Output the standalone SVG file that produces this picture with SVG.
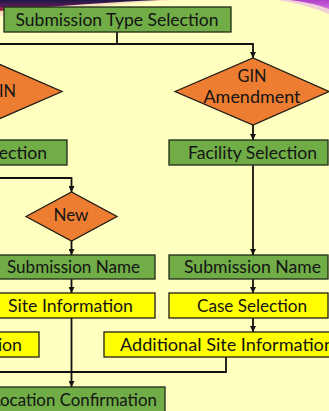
<svg xmlns="http://www.w3.org/2000/svg" width="329" height="411" viewBox="0 0 329 411">
  <defs>
    <linearGradient id="swooshL" x1="0" y1="0" x2="0" y2="1">
      <stop offset="0" stop-color="#1d1745"/>
      <stop offset="0.55" stop-color="#5a1c58"/>
      <stop offset="1" stop-color="#c42a3c"/>
    </linearGradient>
    <linearGradient id="swooshR" x1="0" y1="0" x2="0" y2="1">
      <stop offset="0" stop-color="#b040c8"/>
      <stop offset="1" stop-color="#d070e0"/>
    </linearGradient>
    <marker id="arrow" markerUnits="userSpaceOnUse" markerWidth="7" markerHeight="6" refX="6" refY="3" orient="auto">
      <path d="M0,0 L6,3 L0,6 Z" fill="#111"/>
    </marker>
  </defs>
  <style>
    .box-green { fill: #70ad47; stroke: #1f2a18; stroke-width: 1.3; }
    .box-yellow { fill: #ffff00; stroke: #1f1f10; stroke-width: 1.3; }
    .decision { fill: #ed7d31; stroke: #1f1a12; stroke-width: 1.3; }
    .label { font-family: Lato, "Open Sans", "Liberation Sans", sans-serif; font-size: 18px; fill: #141414; }
    .mid { text-anchor: middle; }
    .end { text-anchor: end; }
    .wire { fill: none; stroke: #111; stroke-width: 1.8; }
  </style>

  <!-- page background -->
  <rect x="0" y="0" width="329" height="411" fill="#ffffc0"/>

  <!-- decorative swooshes along the top edge -->
  <path d="M0 0 H175 Q100 5 0 16 Z" fill="#f3c4b8" opacity="0.55"/>
  <path d="M0 0 H160 Q90 3 0 11 Z" fill="url(#swooshL)"/>
  <path d="M278 0 Q308 5 329 14 V0 Z" fill="#e8b0e8" opacity="0.6"/>
  <path d="M290 0 Q314 3 329 9 V0 Z" fill="url(#swooshR)"/>

  <!-- connectors -->
  <g id="connectors">
    <path class="wire" d="M117 32 V44"/>
    <path class="wire" d="M0 44 H253 V58" marker-end="url(#arrow)"/>
    <path class="wire" d="M253 125 V140" marker-end="url(#arrow)"/>
    <path class="wire" d="M253 165 V255" marker-end="url(#arrow)"/>
    <path class="wire" d="M253 279 V293" marker-end="url(#arrow)"/>
    <path class="wire" d="M253 318 V332" marker-end="url(#arrow)"/>
    <path class="wire" d="M226 357 V372 H0"/>
    <path class="wire" d="M0 178 H71.5 V192" marker-end="url(#arrow)"/>
    <path class="wire" d="M71.5 241 V255" marker-end="url(#arrow)"/>
    <path class="wire" d="M71.5 279 V293" marker-end="url(#arrow)"/>
    <path class="wire" d="M71.5 318 V387" marker-end="url(#arrow)"/>
  </g>

  <g id="submission-type-selection">
    <rect class="box-green" x="4" y="7" width="227" height="25"/>
    <text class="label mid" x="117" y="26" textLength="203" lengthAdjust="spacingAndGlyphs">Submission Type Selection</text>
  </g>

  <g id="gin-decision">
    <polygon class="decision" points="-92,91.5 -15,58 62,91.5 -15,125"/>
    <text class="label end" x="16" y="97" textLength="29" lengthAdjust="spacingAndGlyphs">GIN</text>
  </g>

  <g id="gin-amendment-decision">
    <polygon class="decision" points="175,91.5 253,58 329,91.5 253,125"/>
    <text class="label mid" x="252" y="82" textLength="29" lengthAdjust="spacingAndGlyphs">GIN</text>
    <text class="label mid" x="252" y="103" textLength="97" lengthAdjust="spacingAndGlyphs">Amendment</text>
  </g>

  <g id="facility-selection-left">
    <rect class="box-green" x="-92" y="140" width="159" height="25"/>
    <text class="label end" x="47" y="159" textLength="129" lengthAdjust="spacingAndGlyphs">Facility Selection</text>
  </g>

  <g id="facility-selection-right">
    <rect class="box-green" x="169" y="140" width="159" height="25"/>
    <text class="label mid" x="252.5" y="159" textLength="129" lengthAdjust="spacingAndGlyphs">Facility Selection</text>
  </g>

  <g id="new-decision">
    <polygon class="decision" points="26,216.5 71.5,192 117,216.5 71.5,241"/>
    <text class="label mid" x="71" y="221" textLength="35" lengthAdjust="spacingAndGlyphs">New</text>
  </g>

  <g id="submission-name-left">
    <rect class="box-green" x="-12" y="255" width="167" height="24"/>
    <text class="label mid" x="73.5" y="273" textLength="133" lengthAdjust="spacingAndGlyphs">Submission Name</text>
  </g>

  <g id="submission-name-right">
    <rect class="box-green" x="169" y="255" width="159" height="24"/>
    <text class="label mid" x="252.5" y="273" textLength="137" lengthAdjust="spacingAndGlyphs">Submission Name</text>
  </g>

  <g id="site-information">
    <rect class="box-yellow" x="-12" y="293" width="167" height="25"/>
    <text class="label mid" x="70.5" y="312" textLength="125" lengthAdjust="spacingAndGlyphs">Site Information</text>
  </g>

  <g id="case-selection">
    <rect class="box-yellow" x="169" y="293" width="159" height="25"/>
    <text class="label mid" x="252" y="312" textLength="110" lengthAdjust="spacingAndGlyphs">Case Selection</text>
  </g>

  <g id="site-information-far-left">
    <rect class="box-yellow" x="-150" y="332" width="189" height="25"/>
    <text class="label end" x="22" y="351" textLength="125" lengthAdjust="spacingAndGlyphs">Site Information</text>
  </g>

  <g id="additional-site-information">
    <rect class="box-yellow" x="104" y="332" width="240" height="25"/>
    <text class="label" x="120" y="351" textLength="214" lengthAdjust="spacingAndGlyphs">Additional Site Information</text>
  </g>

  <g id="location-confirmation">
    <rect class="box-green" x="-40" y="387" width="205" height="26"/>
    <text class="label end" x="157" y="406" textLength="165" lengthAdjust="spacingAndGlyphs">Location Confirmation</text>
  </g>
</svg>
